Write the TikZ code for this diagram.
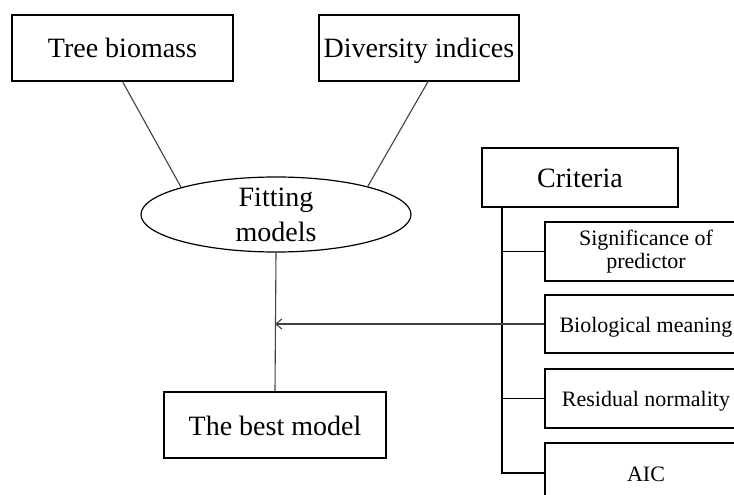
\documentclass[tikz,border=0pt]{standalone}
\usepackage{fontspec}
\setmainfont{Liberation Serif}
\usetikzlibrary{shapes.geometric,arrows.meta}
\begin{document}
\begin{tikzpicture}[x=1pt, y=-1pt, >={Straight Barb[length=6pt,width=10pt]},
  bigbox/.style={draw, line width=1.2pt, inner sep=0pt, minimum height=66pt, text height=26pt, text depth=6pt, font=\fontsize{28}{34}\selectfont},
  critbox/.style={draw, line width=1.2pt, inner sep=0pt, minimum width=202pt, minimum height=59pt, align=center, font=\fontsize{22}{23}\selectfont},
  oneline/.style={text height=21pt, text depth=5pt},
  link/.style={line width=1.1pt, black!75}]
\useasboundingbox (0,0) rectangle (734,495);
% inputs and model fitting
\node[bigbox, minimum width=221pt] (tree) at (122.5,48) {Tree biomass};
\node[bigbox, minimum width=200pt] (div) at (419,48) {Diversity indices};
\node[ellipse, draw, line width=1.2pt, inner sep=0pt, minimum width=270pt, minimum height=75pt,
  label={[align=center, font=\fontsize{28}{35}\selectfont]center:Fitting\\models}] (fit) at (276,214.5) {};
\node[bigbox, minimum width=222pt] (best) at (275,425) {The best model};
\draw[link] (tree.south) -- (fit.164);
\draw[link] ([xshift=9pt]div.south) -- (fit.17);
\draw[link] (fit.south) -- (best.north);
% selection criteria
\node[bigbox, minimum width=196pt, minimum height=59pt] (crit) at (580,177.5) {Criteria};
\node[critbox] (sig) at (646,251.5) {Significance of\\predictor};
\node[critbox, oneline, minimum height=58pt] (bio) at (646,324) {Biological meaning};
\node[critbox, oneline] (res) at (646,398.5) {Residual normality};
\node[critbox, oneline, minimum height=60pt] (aic) at (646,473) {AIC};
\coordinate (spine) at (502,207);
\draw[link, black] (spine) |- (aic.west);
\foreach \n in {sig,bio,res}
  \draw[link, black] (\n.west) -- (\n.west -| spine);
\draw[link, ->] (bio.west) -- (bio.west -| best.north);
\end{tikzpicture}
\end{document}
